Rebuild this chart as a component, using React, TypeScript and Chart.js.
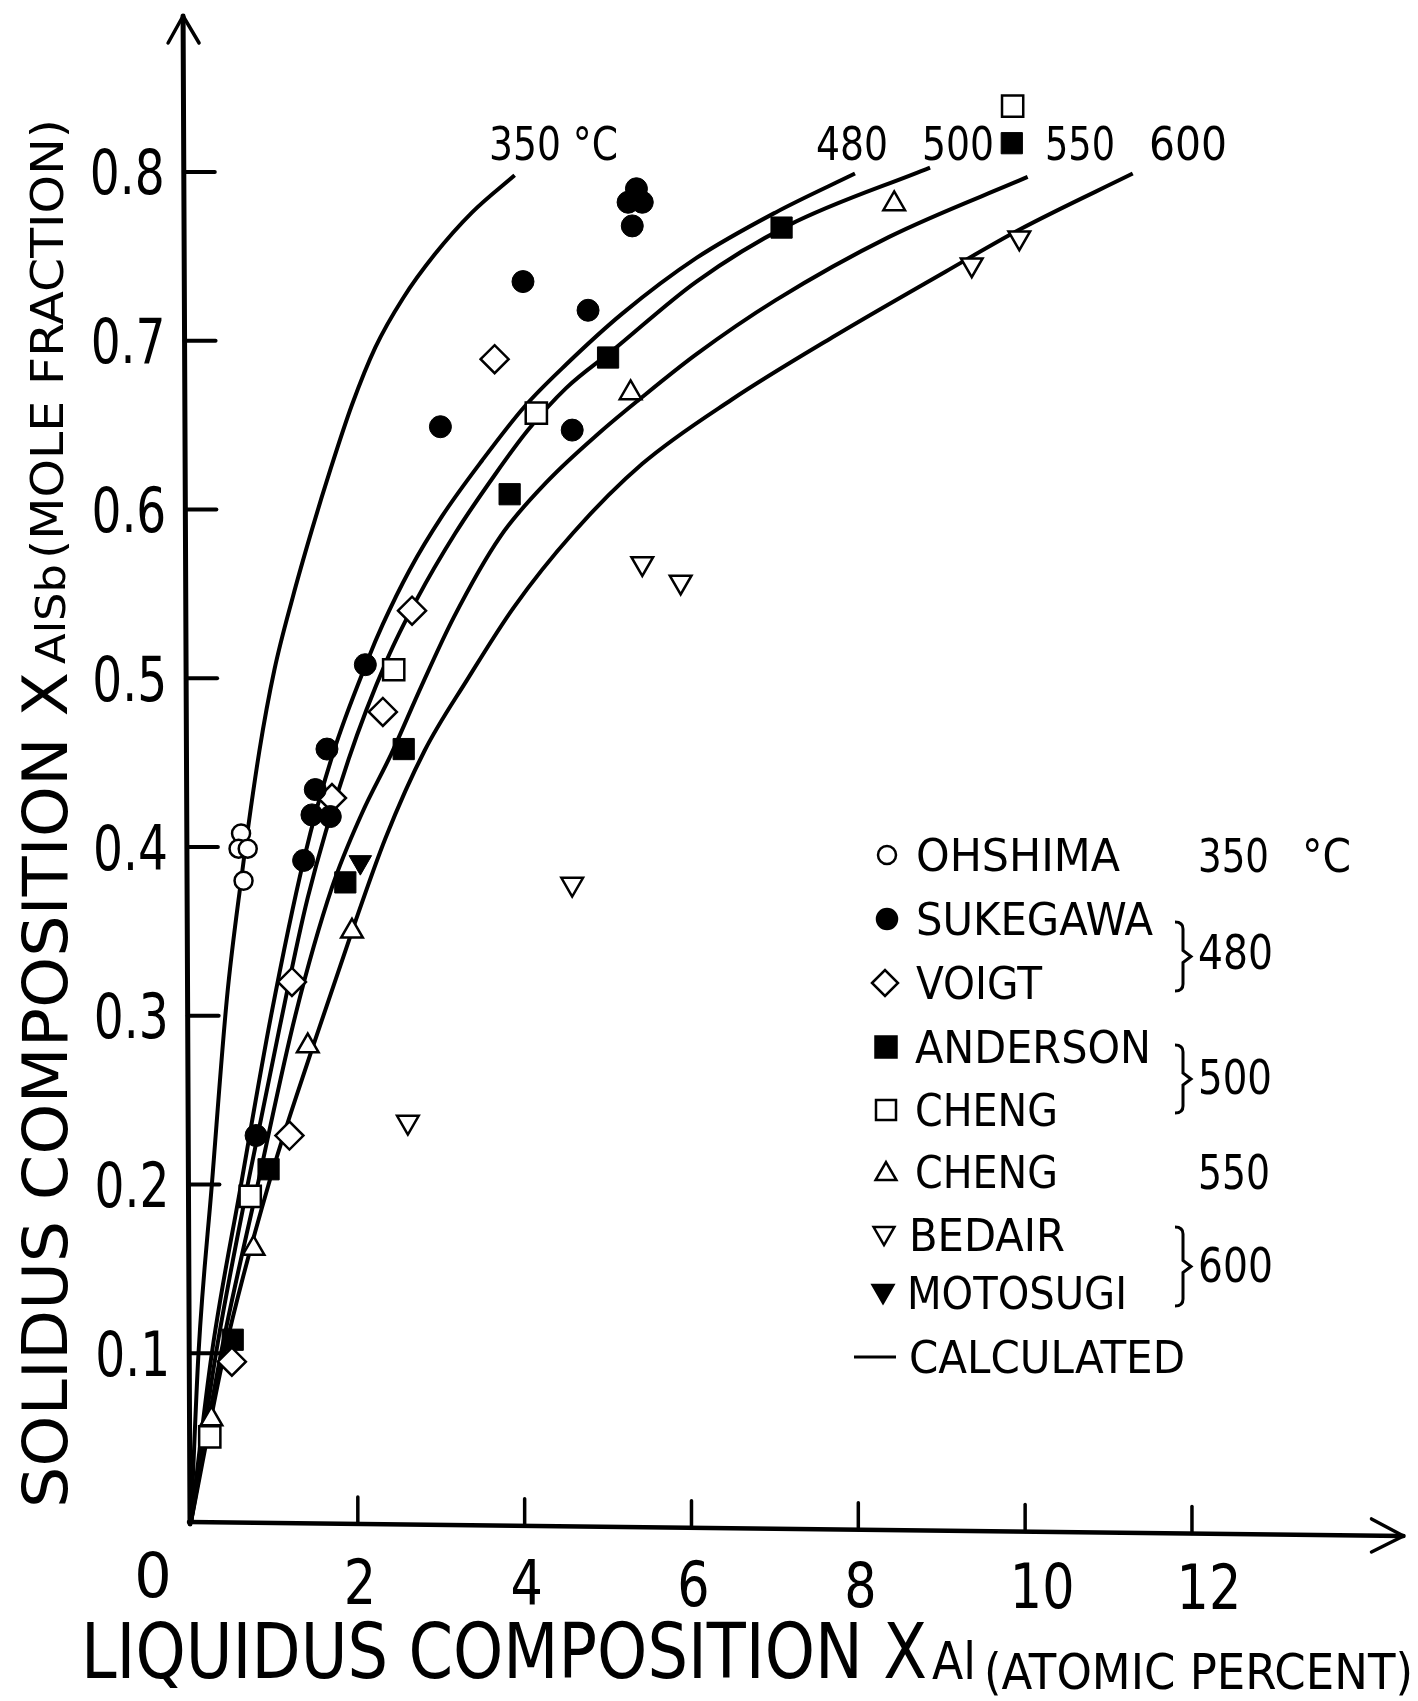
import React, { useEffect, useRef } from "react";
import { Chart, registerables } from "chart.js";

Chart.register(...registerables);

// ---------- axis ticks ----------
const xTickValues = [2, 4, 6, 8, 10, 12];
const xTickLabels = ["2", "4", "6", "8", "10", "12"];
const yTickValues = [0.1, 0.2, 0.3, 0.4, 0.5, 0.6, 0.7, 0.8];
const yTickLabels = ["0.1", "0.2", "0.3", "0.4", "0.5", "0.6", "0.7", "0.8"];
const xAxisMax = 14.5;
const yAxisMax = 0.89;

// ---------- calculated solidus curves ----------
const calc350X = [0, 0.09, 0.25, 0.43, 0.6, 0.82, 1.0, 1.22, 1.45, 1.68, 1.93, 2.21, 2.54, 2.92, 3.37, 3.88];
const calc350Y = [0, 0.1, 0.2, 0.31, 0.38, 0.457, 0.505, 0.548, 0.588, 0.625, 0.662, 0.696, 0.725, 0.751, 0.776, 0.798];
const calc480X = [0, 0.25, 0.6, 0.96, 1.35, 1.7, 2.12, 2.3, 2.62, 3.01, 3.49, 4.0, 4.5, 5.17, 6.06, 7.01, 7.96];
const calc480Y = [0, 0.1, 0.2, 0.3, 0.392, 0.455, 0.511, 0.532, 0.564, 0.596, 0.629, 0.661, 0.686, 0.716, 0.749, 0.776, 0.799];
const calc500X = [0, 0.3, 0.68, 1.05, 1.4, 1.89, 2.35, 2.71, 3.17, 3.65, 4.04, 4.5, 5.05, 6.06, 7.15, 8.86];
const calc500Y = [0, 0.1, 0.2, 0.29, 0.37, 0.452, 0.511, 0.547, 0.586, 0.621, 0.647, 0.672, 0.694, 0.735, 0.768, 0.8025];
const calc550X = [0, 0.36, 0.8, 1.25, 1.69, 2.05, 2.4, 2.76, 3.15, 3.71, 4.28, 4.91, 5.37, 6.06, 7.01, 8.37, 10.03];
const calc550Y = [0, 0.1, 0.2, 0.3, 0.376, 0.42, 0.455, 0.495, 0.536, 0.584, 0.617, 0.646, 0.665, 0.692, 0.724, 0.7615, 0.797];
const calc600X = [0, 0.4, 0.93, 1.45, 1.93, 2.33, 2.8, 3.31, 3.87, 4.58, 5.41, 6.48, 7.69, 9.05, 9.94, 11.29];
const calc600Y = [0, 0.1, 0.2, 0.28, 0.35, 0.405, 0.457, 0.499, 0.542, 0.586, 0.627, 0.665, 0.702, 0.741, 0.766, 0.799];

// ---------- experimental data ----------
const ohshimaX = [0.6, 0.57, 0.68, 0.63];
const ohshimaY = [0.408, 0.399, 0.399, 0.38];
const sukegawaX = [0.78, 1.35, 1.45, 1.67, 1.49, 1.63, 2.09, 2.99, 3.98, 4.76, 4.57, 5.29, 5.24, 5.34, 5.41];
const sukegawaY = [0.229, 0.392, 0.419, 0.418, 0.434, 0.458, 0.508, 0.649, 0.735, 0.718, 0.647, 0.768, 0.782, 0.79, 0.782];
const voigtX = [0.49, 1.18, 1.21, 1.69, 2.3, 2.65, 3.64];
const voigtY = [0.095, 0.229, 0.32, 0.429, 0.48, 0.54, 0.689];
const andersonX = [0.5, 0.93, 1.85, 2.55, 3.82, 5.0, 7.08, 9.84];
const andersonY = [0.108, 0.209, 0.379, 0.458, 0.609, 0.69, 0.767, 0.817];
const cheng500X = [0.225, 0.71, 2.43, 4.14, 9.85];
const cheng500Y = [0.0505, 0.193, 0.505, 0.657, 0.839];
const cheng550X = [0.245, 0.75, 1.4, 1.93, 5.27, 8.43];
const cheng550Y = [0.061, 0.162, 0.282, 0.35, 0.669, 0.781];
const bedairX = [2.6, 4.57, 5.41, 5.87, 9.36, 9.93];
const bedairY = [0.237, 0.378, 0.568, 0.557, 0.745, 0.761];
const motosugiX = [2.03];
const motosugiY = [0.391];

// ---------- text ----------
const curveLabels = ["350 °C", "480", "500", "550", "600"];
const legendNames = ["OHSHIMA", "SUKEGAWA", "VOIGT", "ANDERSON", "CHENG", "CHENG", "BEDAIR", "MOTOSUGI", "CALCULATED"];
const legendTemps = ["350", "480", "500", "550", "600"];

const FONT = '"DejaVu Sans", "Liberation Sans", Arial, sans-serif';

const zip = (xs: number[], ys: number[]) => xs.map((x, i) => ({ x, y: ys[i] }));

function txt(
  ctx: CanvasRenderingContext2D,
  s: string,
  x: number,
  cy: number,
  size: number,
  opts: { align?: "left" | "center" | "right"; width?: number; sx?: number } = {}
) {
  ctx.save();
  ctx.font = `${size}px ${FONT}`;
  const w = ctx.measureText(s).width;
  const sx = opts.width ? opts.width / w : opts.sx ?? 1;
  const W = w * sx;
  const align = opts.align ?? "left";
  let left = x;
  if (align === "center") left = x - W / 2;
  else if (align === "right") left = x - W;
  ctx.translate(left, cy + (size * 0.729) / 2);
  ctx.scale(sx, 1);
  ctx.textAlign = "left";
  ctx.textBaseline = "alphabetic";
  ctx.fillStyle = "#000";
  ctx.fillText(s, 0, 0);
  ctx.restore();
}

function marker(ctx: CanvasRenderingContext2D, style: string, x: number, y: number, r: number, filled: boolean, down = false) {
  ctx.save();
  ctx.lineWidth = 2.5;
  ctx.strokeStyle = "#000";
  ctx.fillStyle = filled ? "#000" : "#fff";
  ctx.beginPath();
  if (style === "circle") ctx.arc(x, y, r, 0, Math.PI * 2);
  else if (style === "rect") ctx.rect(x - r, y - r, 2 * r, 2 * r);
  else if (style === "rectRot") {
    ctx.moveTo(x - r, y);
    ctx.lineTo(x, y - r);
    ctx.lineTo(x + r, y);
    ctx.lineTo(x, y + r);
    ctx.closePath();
  } else if (style === "triangle") {
    const s = down ? -1 : 1;
    ctx.moveTo(x, y - s * r);
    ctx.lineTo(x + r * 0.866, y + s * r * 0.5);
    ctx.lineTo(x - r * 0.866, y + s * r * 0.5);
    ctx.closePath();
  }
  ctx.fill();
  ctx.stroke();
  ctx.restore();
}

function brace(ctx: CanvasRenderingContext2D, x: number, top: number, bottom: number) {
  const mid = (top + bottom) / 2;
  ctx.save();
  ctx.lineWidth = 3;
  ctx.strokeStyle = "#000";
  ctx.beginPath();
  ctx.moveTo(x - 8, top);
  ctx.quadraticCurveTo(x, top, x, top + 7);
  ctx.lineTo(x, mid - 6);
  ctx.lineTo(x + 8, mid);
  ctx.lineTo(x, mid + 6);
  ctx.lineTo(x, bottom - 7);
  ctx.quadraticCurveTo(x, bottom, x - 8, bottom);
  ctx.stroke();
  ctx.restore();
}

const decor = {
  id: "decor",
  beforeDatasetsDraw(chart: any) {
    const ctx: CanvasRenderingContext2D = chart.ctx;
    const xs = chart.scales.x;
    const ys = chart.scales.y;
    const X0 = xs.getPixelForValue(0);
    const Y0 = ys.getPixelForValue(0);
    const xTilt = 0.0115; // scanned page tilt of the x axis
    const yTilt = -0.0046; // scanned page tilt of the y axis
    const axisYAt = (px: number) => Y0 + (px - X0) * xTilt;
    const axisXAt = (py: number) => X0 - 1 + (Y0 - py) * yTilt;
    ctx.save();
    ctx.strokeStyle = "#000";
    ctx.lineCap = "round";
    ctx.lineJoin = "round";
    // y axis with arrow
    const topY = chart.chartArea.top - 4;
    ctx.lineWidth = 5;
    ctx.beginPath();
    ctx.moveTo(axisXAt(Y0 + 2), Y0 + 2);
    ctx.lineTo(axisXAt(topY), topY);
    ctx.stroke();
    const tx = axisXAt(topY);
    ctx.lineWidth = 3.5;
    ctx.beginPath();
    ctx.moveTo(tx - 15, topY + 27);
    ctx.lineTo(tx, topY);
    ctx.lineTo(tx + 16, topY + 27);
    ctx.stroke();
    // x axis with arrow
    const rightX = chart.chartArea.right + 3;
    ctx.lineWidth = 4.5;
    ctx.beginPath();
    ctx.moveTo(X0 - 2, Y0);
    ctx.lineTo(rightX, axisYAt(rightX));
    ctx.stroke();
    const ty = axisYAt(rightX);
    ctx.lineWidth = 3.5;
    ctx.beginPath();
    ctx.moveTo(rightX - 32, ty - 17);
    ctx.lineTo(rightX, ty);
    ctx.lineTo(rightX - 32, ty + 16);
    ctx.stroke();
    // x ticks
    ctx.lineWidth = 3.5;
    xTickValues.forEach((v, i) => {
      const px = xs.getPixelForValue(v);
      const py = axisYAt(px);
      ctx.beginPath();
      ctx.moveTo(px, py);
      ctx.lineTo(px, py - 27);
      ctx.stroke();
      txt(ctx, xTickLabels[i], px + (xTickLabels[i].length > 1 ? 17 : 2), Y0 + 58 + (px - X0) * 0.006, 62, { align: "center", sx: 0.82 });
    });
    txt(ctx, "0", X0 - 38, Y0 + 52, 62, { align: "center", sx: 0.95 });
    // y ticks
    ctx.lineWidth = 4;
    yTickValues.forEach((v, i) => {
      const py = ys.getPixelForValue(v);
      const ax = axisXAt(py);
      ctx.beginPath();
      ctx.moveTo(ax, py);
      ctx.lineTo(ax + 31, py);
      ctx.stroke();
      txt(ctx, yTickLabels[i], ax - 19, py, 62, { align: "right", sx: 0.76 });
    });
    ctx.restore();

    // axis titles
    txt(ctx, "LIQUIDUS COMPOSITION X", 81, 1650, 76, { width: 846 });
    txt(ctx, "Al", 932, 1660, 52, { width: 44 });
    txt(ctx, "(ATOMIC PERCENT)", 984, 1671, 50, { width: 429 });

    ctx.save();
    ctx.translate(44, 1508);
    ctx.rotate(-Math.PI / 2);
    txt(ctx, "SOLIDUS COMPOSITION X", 0, 0, 62, { width: 836 });
    ctx.restore();
    ctx.save();
    ctx.translate(50, 664);
    ctx.rotate(-Math.PI / 2);
    txt(ctx, "AlSb", 0, 0, 40, { width: 100 });
    ctx.restore();
    ctx.save();
    ctx.translate(47, 559);
    ctx.rotate(-Math.PI / 2);
    txt(ctx, "(MOLE FRACTION)", 0, 0, 44, { width: 440 });
    ctx.restore();
  },
  afterDraw(chart: any) {
    const ctx: CanvasRenderingContext2D = chart.ctx;
    // curve labels
    txt(ctx, curveLabels[0], 489, 143, 46, { width: 129 });
    txt(ctx, curveLabels[1], 816, 143, 46, { width: 72 });
    txt(ctx, curveLabels[2], 922, 143, 46, { width: 72 });
    txt(ctx, curveLabels[3], 1045, 143, 46, { width: 70 });
    txt(ctx, curveLabels[4], 1149, 143, 46, { width: 78 });

    // legend
    const rows = [855, 919, 983, 1047, 1110, 1172, 1235, 1293, 1357];
    const textLeft = [916, 916, 916, 915, 915, 915, 909, 907, 909];
    const textW = [204, 237, 126, 236, 143, 143, 156, 220, 276];
    marker(ctx, "circle", 887, rows[0], 9, false);
    marker(ctx, "circle", 887, rows[1], 10, true);
    marker(ctx, "rectRot", 885, rows[2], 13, false);
    marker(ctx, "rect", 886, rows[3], 10.5, true);
    marker(ctx, "rect", 886, rows[4], 10, false);
    marker(ctx, "triangle", 886, rows[5] + 2, 12, false);
    marker(ctx, "triangle", 884, rows[6] - 2, 12, false, true);
    marker(ctx, "triangle", 883, rows[7] - 2, 12, true, true);
    ctx.save();
    ctx.lineWidth = 3;
    ctx.strokeStyle = "#000";
    ctx.beginPath();
    ctx.moveTo(854, rows[8]);
    ctx.lineTo(896, rows[8]);
    ctx.stroke();
    ctx.restore();
    legendNames.forEach((n, i) => txt(ctx, n, textLeft[i], rows[i], 44, { width: textW[i] }));
    txt(ctx, legendTemps[0], 1198, rows[0], 46, { width: 71 });
    txt(ctx, "°C", 1302, rows[0], 46, { width: 49 });
    brace(ctx, 1183, 922, 991);
    txt(ctx, legendTemps[1], 1198, 952, 48, { width: 75 });
    brace(ctx, 1183, 1045, 1113);
    txt(ctx, legendTemps[2], 1198, 1077, 48, { width: 74 });
    txt(ctx, legendTemps[3], 1198, rows[5], 48, { width: 72 });
    brace(ctx, 1183, 1227, 1306);
    txt(ctx, legendTemps[4], 1198, 1265, 48, { width: 75 });
  },
};

function curve(xs: number[], ys: number[]) {
  return {
    data: zip(xs, ys),
    showLine: true,
    borderColor: "#000",
    borderWidth: 4,
    pointRadius: 0,
    cubicInterpolationMode: "monotone" as const,
    clip: false as any,
    order: 10,
  };
}

function pts(xs: number[], ys: number[], style: string, r: number, filled: boolean, rotation = 0) {
  return {
    data: zip(xs, ys),
    showLine: false,
    pointStyle: style,
    pointRadius: r,
    pointRotation: rotation,
    pointBackgroundColor: filled ? "#000" : "#fff",
    pointBorderColor: "#000",
    pointBorderWidth: filled ? 1 : 2.5,
    clip: false as any,
    order: 1,
  };
}

export default function App() {
  const ref = useRef<HTMLCanvasElement>(null);
  useEffect(() => {
    const chart = new Chart(ref.current as HTMLCanvasElement, {
      type: "scatter",
      data: {
        datasets: [
          curve(calc350X, calc350Y),
          curve(calc480X, calc480Y),
          curve(calc500X, calc500Y),
          curve(calc550X, calc550Y),
          curve(calc600X, calc600Y),
          pts(ohshimaX, ohshimaY, "circle", 9, false),
          pts(sukegawaX, sukegawaY, "circle", 11, true),
          pts(voigtX, voigtY, "rectRot", 14, false),
          pts(andersonX, andersonY, "rect", 15, true),
          pts(cheng500X, cheng500Y, "rect", 15, false),
          pts(cheng550X, cheng550Y, "triangle", 12.5, false),
          pts(bedairX, bedairY, "triangle", 12.5, false, 180),
          pts(motosugiX, motosugiY, "triangle", 13, true, 180),
        ] as any,
      },
      options: {
        responsive: false,
        animation: false,
        devicePixelRatio: 1,
        events: [],
        layout: { padding: { left: 191, right: 5, top: 20, bottom: 179 } },
        plugins: { legend: { display: false }, tooltip: { enabled: false } },
        scales: {
          x: { type: "linear", min: 0, max: xAxisMax, display: false },
          y: { type: "linear", min: 0, max: yAxisMax, display: false },
        },
      },
      plugins: [decor],
    });
    return () => chart.destroy();
  }, []);
  return (
    <div style={{ position: "absolute", left: 0, top: 0, width: 1418, height: 1701, background: "#fff" }}>
      <canvas ref={ref} width={1418} height={1701} style={{ display: "block", width: 1418, height: 1701 }} />
    </div>
  );
}
